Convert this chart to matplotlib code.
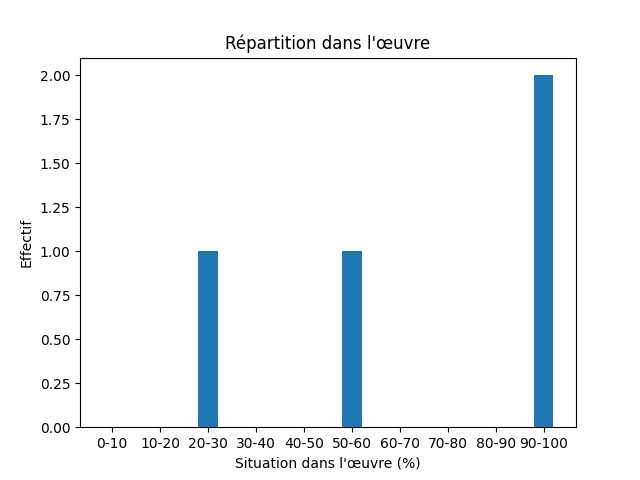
import matplotlib
matplotlib.use("Agg")
import matplotlib.pyplot as plt

categories = ["0-10", "10-20", "20-30", "30-40", "40-50", "50-60", "60-70", "70-80", "80-90", "90-100"]
counts = [0, 0, 1, 0, 0, 1, 0, 0, 0, 2]

fig, ax = plt.subplots(figsize=(6.4, 4.8), dpi=100)
ax.bar(range(len(categories)), counts, width=0.4, color="#1f77b4")
ax.set_xticks(range(len(categories)))
ax.set_xticklabels(categories)
ax.set_yticks([0, 0.25, 0.5, 0.75, 1.0, 1.25, 1.5, 1.75, 2.0])
ax.set_yticklabels([f"{v:.2f}" for v in [0, 0.25, 0.5, 0.75, 1.0, 1.25, 1.5, 1.75, 2.0]])
ax.set_title("Répartition dans l'œuvre")
ax.set_xlabel("Situation dans l'œuvre (%)")
ax.set_ylabel("Effectif")
fig.savefig("out.png", dpi=100)
